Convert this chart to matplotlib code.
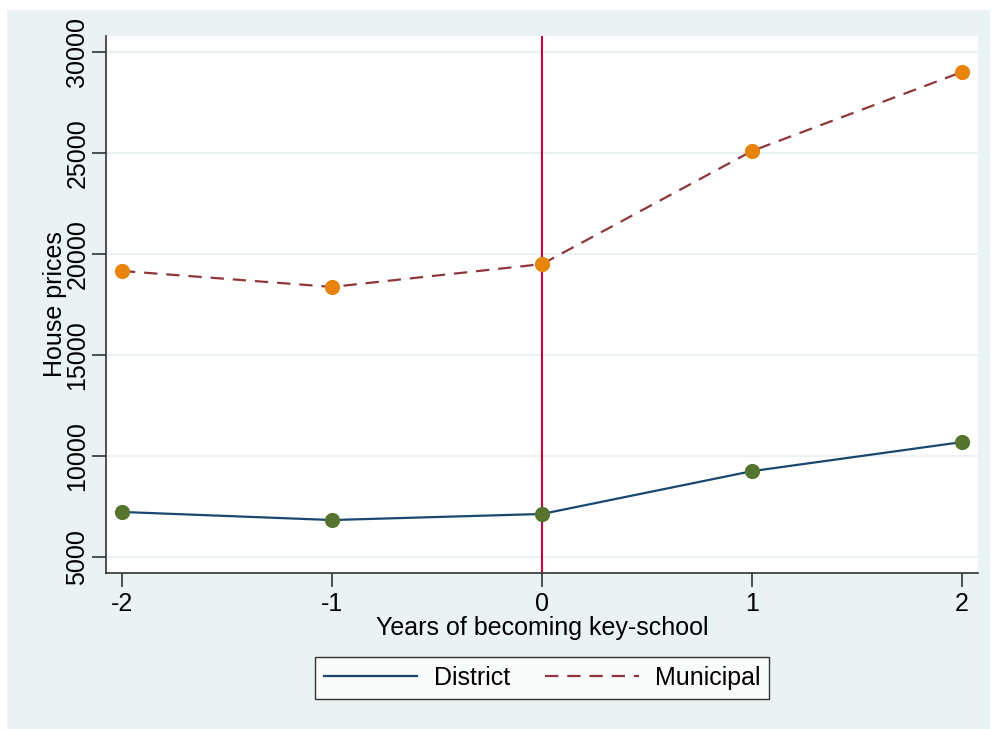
import matplotlib
matplotlib.use("Agg")
import matplotlib.pyplot as plt
from matplotlib.patches import Rectangle

plt.rcParams['font.family'] = ['Liberation Sans', 'DejaVu Sans']

years = [-2, -1, 0, 1, 2]
district = [7230, 6830, 7130, 9250, 10690]
municipal = [19160, 18370, 19500, 25100, 29010]
yticks = [5000, 10000, 15000, 20000, 25000, 30000]

BG = '#eaf2f3'
FS = 18
fig = plt.figure(figsize=(9.96, 7.29), dpi=100)
fig.patch.set_facecolor('white')
fig.patches.append(Rectangle((7/996, 1 - 731/729), 983/996, 721/729,
                             transform=fig.transFigure, facecolor=BG,
                             edgecolor='none', zorder=-10))

ax = fig.add_axes([106/996, 1 - 573/729, (978 - 106)/996, (573 - 36)/729])
ax.set_facecolor('white')

ax.plot(years, district, color='#1a476f', lw=1.6, zorder=3, label='District')
ax.plot(years, municipal, color='#90353b', lw=1.6, ls=(0, (6, 4)), zorder=3,
        label='Municipal')
ax.scatter(years, district, s=120, color='#55752f', zorder=4, linewidths=0)
ax.scatter(years, municipal, s=120, color='#e8830c', zorder=4, linewidths=0)
ax.axvline(0, color='#c10534', lw=1.5, zorder=2)

ax.set_xlim(-2.076, 2.076)
ax.set_ylim(4208, 30792)
ax.set_xticks(years)
ax.set_xticklabels([str(y) for y in years])
ax.set_yticks(yticks)
ax.set_yticklabels([str(v) for v in yticks], rotation=90, va='center')
ax.grid(axis='y', color=BG, lw=1.5)
ax.set_axisbelow(True)

for s in ['top', 'right']:
    ax.spines[s].set_visible(False)
for s in ['left', 'bottom']:
    ax.spines[s].set_color('#333333')
    ax.spines[s].set_linewidth(1.2)
ax.tick_params(axis='both', length=10, width=1.2, color='#333333',
               labelsize=FS, pad=4)
ax.tick_params(axis='y', pad=2)

ax.set_xlabel('Years of becoming key-school', fontsize=FS, labelpad=0)
ax.set_ylabel('House prices', fontsize=FS, labelpad=-1)

leg = fig.legend(loc='center', bbox_to_anchor=(542/996, 1 - 678/729), ncol=2,
                 fontsize=FS, frameon=True, fancybox=False,
                 edgecolor='black', handlelength=3.75, columnspacing=1.4,
                 borderpad=0.35, handletextpad=0.65)
leg.get_frame().set_linewidth(1.0)
leg.get_frame().set_facecolor('white')

fig.savefig('out.png', dpi=100, facecolor='white')
